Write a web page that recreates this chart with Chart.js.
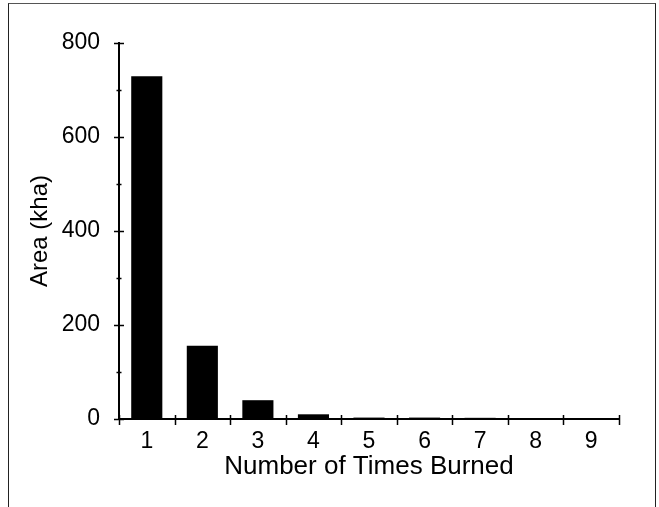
<!DOCTYPE html>
<html>
<head>
<meta charset="utf-8">
<script src="https://cdn.jsdelivr.net/npm/chart.js@4"></script>
<style>
  body { margin: 0; background: #fff; }
  #frame { position: absolute; left: 8px; top: 3px; width: 646px; height: 600px;
           border: 1px solid #222; border-top-color: #555; border-bottom: none; }
  #wrap { position: absolute; left: 0; top: 0; width: 659px; height: 507px; }
</style>
</head>
<body>
<div id="frame"></div>
<div id="wrap"><canvas id="chart" width="659" height="507"></canvas></div>
<script>
// times burned vs area
const timesBurned = ['1', '2', '3', '4', '5', '6', '7', '8', '9'];
const areaKha = [729, 156, 40, 10, 3, 3, 2.5, 0.4, 0.3];
const yTicks = [0, 200, 400, 600, 800];

const FONT = 'Arial, "Liberation Sans", sans-serif';

// ticks that cross the axis lines, like the original
const crossTicks = {
  id: 'crossTicks',
  afterDraw(chart) {
    const ctx = chart.ctx;
    const x = chart.scales.x, y = chart.scales.y;
    ctx.save();
    ctx.strokeStyle = '#000';
    ctx.lineWidth = 1.5;
    ctx.beginPath();
    for (let v = 0; v <= 800; v += 100) {
      const py = Math.round(y.getPixelForValue(v)) + 0.5;
      const h = v % 200 === 0 ? 5 : 2.5;
      ctx.moveTo(x.left - h, py);
      ctx.lineTo(x.left + h, py);
    }
    const w = (x.right - x.left) / timesBurned.length;
    for (let i = 0; i <= timesBurned.length; i++) {
      const px = Math.round(x.left + i * w) + 0.5;
      ctx.moveTo(px, y.bottom - 4);
      ctx.lineTo(px, y.bottom + 6);
    }
    ctx.stroke();
    ctx.restore();
  }
};

new Chart(document.getElementById('chart'), {
  type: 'bar',
  data: {
    labels: timesBurned,
    datasets: [{
      data: areaKha,
      backgroundColor: '#000',
      borderWidth: 0,
      categoryPercentage: 1,
      barPercentage: 0.56
    }]
  },
  options: {
    responsive: false,
    animation: false,
    layout: { padding: { left: 0, right: 40, top: 43, bottom: 0 } },
    plugins: { legend: { display: false }, tooltip: { enabled: false } },
    scales: {
      x: {
        grid: { display: false, drawTicks: false },
        border: { display: true, color: '#000', width: 2 },
        ticks: { color: '#000', font: { family: FONT, size: 23 }, padding: 9 },
        title: {
          display: true, text: 'Number of Times Burned', color: '#000',
          font: { family: FONT, size: 26 }, padding: { top: 0, bottom: 25 }
        },
        afterFit(scale) { scale.height = 88; }
      },
      y: {
        min: 0, max: 800,
        afterBuildTicks(scale) { scale.ticks = yTicks.map(v => ({ value: v })); },
        grid: { display: false, drawTicks: false },
        border: { display: true, color: '#000', width: 2 },
        ticks: { color: '#000', font: { family: FONT, size: 23 }, padding: 19 },
        title: {
          display: true, text: 'Area (kha)', color: '#000',
          font: { family: FONT, size: 24 }, padding: { top: 26, bottom: 0 }
        },
        afterFit(scale) { scale.width = 119; }
      }
    }
  },
  plugins: [crossTicks]
});
</script>
</body>
</html>
